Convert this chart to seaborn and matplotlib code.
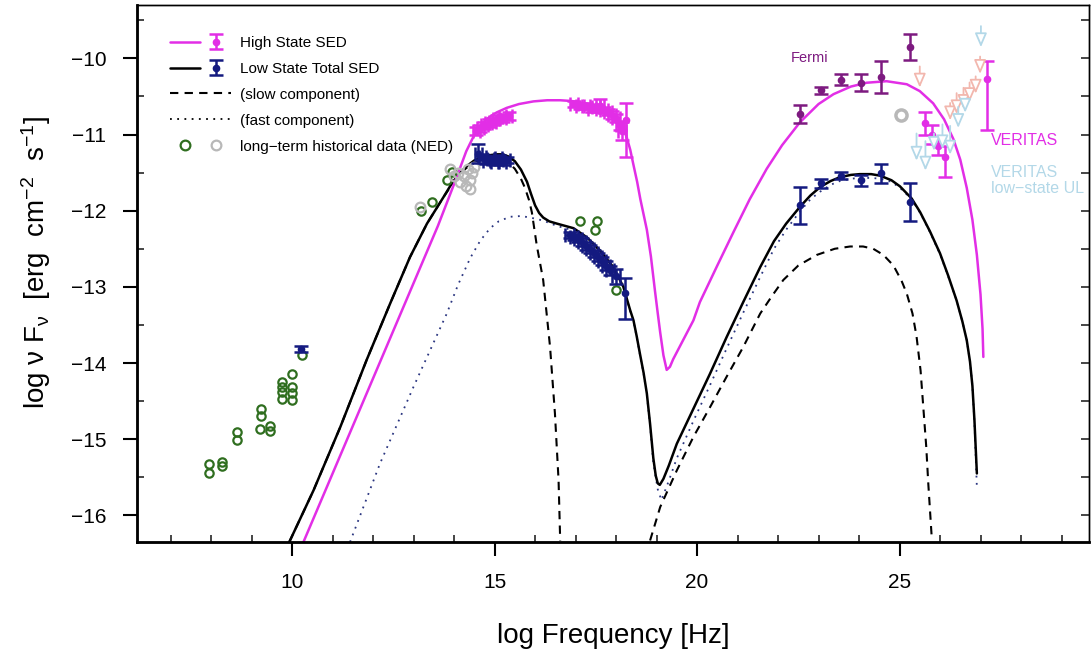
import numpy as np
import pandas as pd
import seaborn as sns
import matplotlib.pyplot as plt
from matplotlib.lines import Line2D
from matplotlib.legend_handler import HandlerTuple
from matplotlib.ticker import MultipleLocator

## model curves (log nu, log nuFnu)
high_x = [10.28, 11.0, 12.0, 13.0, 13.6, 14.0, 14.3, 14.55, 14.7, 14.85, 15.05, 15.3, 15.6, 15.96, 16.3,
          16.62, 16.9, 17.11, 17.4, 17.6, 17.8, 18.02, 18.15, 18.26, 18.35, 18.43, 18.52, 18.6, 18.68,
          18.76, 18.86, 18.96, 19.03, 19.09, 19.17, 19.25, 19.33, 19.41, 19.91, 20.07, 20.5, 20.9, 21.3,
          21.72, 22.1, 22.54, 23.0, 23.37, 23.8, 24.19, 24.68, 25.18, 25.5, 25.83, 26.1, 26.33, 26.5,
          26.66, 26.8, 26.91, 27.0, 27.05, 27.07]
high_y = [-16.35, -15.45, -14.2, -12.95, -12.2, -11.65, -11.22, -10.95, -10.85, -10.78, -10.71, -10.65,
          -10.6, -10.565, -10.55, -10.55, -10.56, -10.58, -10.62, -10.66, -10.72, -10.8, -10.9, -11.03,
          -11.2, -11.4, -11.62, -11.85, -12.05, -12.25, -12.6, -13.05, -13.35, -13.6, -13.9, -14.09,
          -14.05, -13.95, -13.44, -13.2, -12.72, -12.28, -11.85, -11.45, -11.14, -10.84, -10.6, -10.47,
          -10.37, -10.32, -10.3, -10.34, -10.43, -10.59, -10.8, -11.06, -11.33, -11.7, -12.12, -12.58,
          -13.1, -13.55, -13.92]

tot_x = [9.93, 10.53, 11.19, 11.84, 12.42, 12.91, 13.33, 13.74, 13.9, 14.07, 14.3, 14.5, 14.72, 14.9,
         15.05, 15.2, 15.35, 15.5, 15.65, 15.8, 15.9, 16.0, 16.1, 16.2, 16.35, 16.54, 16.95, 17.28, 17.6,
         17.93, 18.18, 18.35, 18.43, 18.51, 18.59, 18.68, 18.76, 18.84, 18.92, 18.98, 19.03, 19.08, 19.17,
         19.3, 19.5, 19.91, 20.32, 20.73, 21.14, 21.56, 21.9, 22.2, 22.54, 22.8, 23.04, 23.3, 23.53, 23.8,
         24.02, 24.3, 24.52, 24.8, 25.01, 25.3, 25.51, 25.75, 26.0, 26.2, 26.41, 26.55, 26.66, 26.74,
         26.8, 26.85, 26.91]
tot_y = [-16.35, -15.67, -14.84, -13.96, -13.22, -12.61, -12.17, -11.82, -11.68, -11.55, -11.42, -11.34,
         -11.29, -11.27, -11.26, -11.26, -11.29, -11.35, -11.46, -11.62, -11.78, -11.93, -12.03, -12.09,
         -12.14, -12.17, -12.23, -12.35, -12.52, -12.74, -13.0, -13.31, -13.44, -13.65, -13.88, -14.13,
         -14.4, -14.8, -15.25, -15.48, -15.58, -15.6, -15.52, -15.35, -15.06, -14.6, -14.14, -13.66,
         -13.2, -12.74, -12.4, -12.17, -11.95, -11.8, -11.69, -11.61, -11.56, -11.53, -11.52, -11.52,
         -11.54, -11.6, -11.68, -11.84, -12.02, -12.27, -12.56, -12.85, -13.18, -13.45, -13.7, -13.98,
         -14.3, -14.75, -15.45]

slow_lo_x = [9.93, 10.53, 11.19, 11.84, 12.42, 12.91, 13.33, 13.74, 14.07, 14.3, 14.5, 14.72, 14.9, 15.05,
             15.2, 15.35, 15.5, 15.65, 15.75, 15.85, 15.92, 16.04, 16.2, 16.37, 16.49, 16.58, 16.62]
slow_lo_y = [-16.35, -15.67, -14.84, -13.96, -13.22, -12.61, -12.17, -11.82, -11.56, -11.44, -11.37,
             -11.33, -11.32, -11.32, -11.33, -11.37, -11.45, -11.58, -11.7, -11.86, -12.02, -12.45, -12.91,
             -13.79, -14.66, -15.54, -16.33]
slow_hi_x = [18.84, 19.09, 19.5, 19.91, 20.32, 20.73, 21.14, 21.56, 21.85, 22.13, 22.5, 22.96, 23.4,
             23.78, 24.1, 24.35, 24.6, 24.85, 25.05, 25.18, 25.32, 25.42, 25.52, 25.59, 25.66, 25.71, 25.8]
slow_hi_y = [-16.33, -15.89, -15.41, -14.97, -14.58, -14.18, -13.79, -13.35, -13.12, -12.91, -12.72,
             -12.58, -12.5, -12.47, -12.47, -12.5, -12.58, -12.72, -12.92, -13.09, -13.35, -13.65, -14.1,
             -14.6, -15.1, -15.58, -16.33]

fast_x = [11.43, 12.17, 13.0, 13.82, 14.1, 14.4, 14.65, 14.89, 15.1, 15.38, 15.65, 15.88, 16.2, 16.54,
          16.95, 17.28, 17.6, 17.93, 18.18, 18.35, 18.43, 18.51, 18.59, 18.68, 18.76, 18.84, 18.92, 19.03,
          19.12, 19.3, 19.5, 19.91, 20.32, 20.73, 21.14, 21.56, 21.9, 22.2, 22.54, 22.8, 23.04, 23.3,
          23.53, 23.8, 24.02, 24.3, 24.52, 24.8, 25.01, 25.3, 25.51, 25.75, 26.0, 26.2, 26.41, 26.55, 26.66,
          26.74, 26.8, 26.85, 26.91]
fast_y = [-16.35, -15.32, -14.31, -13.35, -12.97, -12.62, -12.39, -12.23, -12.14, -12.08, -12.07, -12.09,
          -12.13, -12.2, -12.26, -12.37, -12.53, -12.75, -13.01, -13.32, -13.45, -13.66, -13.89, -14.14,
          -14.42, -14.82, -15.31, -15.66, -15.8, -15.55, -15.25, -14.76, -14.29, -13.81, -13.34, -12.87,
          -12.5, -12.25, -12.01, -11.85, -11.75, -11.66, -11.61, -11.58, -11.57, -11.57, -11.58, -11.62,
          -11.7, -11.85, -12.03, -12.28, -12.57, -12.86, -13.18, -13.45, -13.7, -13.98, -14.3, -14.78,
          -15.63]

## high state data
hs_opt_x = [14.55, 14.65, 14.75, 14.85, 14.95, 15.05, 15.2, 15.35]
hs_opt_y = [-10.95, -10.92, -10.88, -10.85, -10.83, -10.8, -10.78, -10.76]
hs_xr_x = [16.95, 17.1, 17.25, 17.4, 17.5, 17.6, 17.7, 17.8, 17.9, 18.0, 18.1, 18.15]
hs_xr_y = [-10.6, -10.62, -10.63, -10.66, -10.64, -10.62, -10.68, -10.71, -10.74, -10.78, -10.88, -10.95]
hs_xr_err = [0.04, 0.04, 0.04, 0.04, 0.04, 0.09, 0.04, 0.04, 0.05, 0.05, 0.06, 0.12]
hs_big_x = [18.25]
hs_big_y = [-10.81]
hs_big_lo = [0.49]
hs_big_hi = [0.22]
fermi_x = [22.54, 23.05, 23.55, 24.05, 24.54, 25.26]
hs_fermi_y = [-10.73, -10.42, -10.28, -10.32, -10.24, -9.85]
hs_fermi_err = [0.12, 0.05, 0.07, 0.11, 0.21, 0.17]
ver_x = [25.64, 25.81, 25.96, 26.13, 27.16]
ver_y = [-10.85, -11.0, -11.15, -11.3, -10.27]
ver_lo = [0.15, 0.12, 0.12, 0.26, 0.67]
ver_hi = [0.15, 0.12, 0.12, 0.15, 0.24]

## low state data
ls_radio_x = [10.21]
ls_radio_y = [-13.81]
ls_opt_x = [14.6, 14.7, 14.8, 14.9, 15.0, 15.1, 15.2, 15.3]
ls_opt_y = [-11.25, -11.3, -11.35, -11.32, -11.36, -11.31, -11.36, -11.33]
ls_opt_err = [0.12, 0.04, 0.04, 0.04, 0.04, 0.04, 0.04, 0.04]
ls_xr_x = [16.85, 16.95, 17.05, 17.15, 17.25, 17.35, 17.45, 17.55, 17.65, 17.75, 17.85, 18.0]
ls_xr_y = [-12.32, -12.34, -12.37, -12.41, -12.46, -12.5, -12.56, -12.61, -12.66, -12.72, -12.78, -12.86]
ls_xr_err = [0.04, 0.04, 0.04, 0.05, 0.05, 0.05, 0.05, 0.05, 0.05, 0.06, 0.06, 0.1]
ls_big_x = [18.22]
ls_big_y = [-13.08]
ls_big_lo = [0.34]
ls_big_hi = [0.2]
ls_fermi_y = [-11.93, -11.64, -11.54, -11.6, -11.51, -11.89]
ls_fermi_err = [0.24, 0.06, 0.05, 0.07, 0.12, 0.25]

## upper limits (top of arrow, arrow length)
ul_hi_x = [25.5, 26.25, 26.41, 26.58, 26.73, 26.88, 26.99]
ul_hi_y = [-10.07, -10.55, -10.42, -10.35, -10.28, -10.2, -9.94]
ul_hi_len = [0.35, 0.3, 0.35, 0.35, 0.33, 0.3, 0.3]
ul_lo_x = [25.42, 25.64, 25.85, 26.06, 26.25, 26.45, 26.62, 27.01]
ul_lo_y = [-10.95, -11.05, -10.95, -10.83, -10.85, -10.6, -10.5, -9.54]
ul_lo_len = [0.43, 0.46, 0.3, 0.4, 0.45, 0.35, 0.25, 0.35]

## historical NED data
ned_x = [7.95, 7.95, 8.26, 8.26, 8.65, 8.65, 9.23, 9.23, 9.21, 9.46, 9.46, 9.75, 9.75, 9.75, 9.75,
         10.0, 10.0, 10.0, 10.0, 10.24, 13.18, 13.45, 13.82, 13.94, 17.11, 17.54, 17.48, 18.01]
ned_y = [-15.33, -15.45, -15.3, -15.35, -14.9, -15.01, -14.6, -14.69, -14.86, -14.83, -14.89, -14.25,
         -14.31, -14.38, -14.47, -14.14, -14.31, -14.4, -14.49, -13.9, -12.0, -11.89, -11.6, -11.49,
         -12.13, -12.13, -12.26, -13.04]
grey_x = [13.15, 13.9, 14.0, 14.1, 14.15, 14.25, 14.3, 14.35, 14.4, 14.45, 14.5, 14.4]
grey_y = [-11.95, -11.45, -11.55, -11.5, -11.62, -11.55, -11.68, -11.45, -11.6, -11.5, -11.42, -11.72]
grey_fermi_x = [25.04]
grey_fermi_y = [-10.75]

MAG = '#e22ee6'
NAVY = '#141a80'
PURP = '#7d1a80'
GREEN = '#2f6e1f'
GREY = '#b8b8b8'
LBLUE = '#b3d8e8'
PINK = '#f2b7ae'

sns.set_theme(style='white')
plt.rcParams['font.family'] = ['Liberation Sans', 'DejaVu Sans']
plt.rcParams['mathtext.fontset'] = 'custom'
plt.rcParams['mathtext.rm'] = 'Liberation Sans'
plt.rcParams['mathtext.it'] = 'Liberation Sans:italic'
plt.rcParams['mathtext.default'] = 'regular'
plt.rcParams['text.color'] = 'black'
plt.rcParams['axes.labelcolor'] = 'black'

fig = plt.figure(figsize=(10.91, 6.55), dpi=100)
ax = fig.add_axes([0.1256, 0.1725, 0.8726, 0.8198])

# model curves
sns.lineplot(x=fast_x, y=fast_y, ax=ax, color='#2a3580', lw=1.3, linestyle=(0, (1, 3)), sort=False, estimator=None)
sns.lineplot(x=slow_lo_x, y=slow_lo_y, ax=ax, color='black', lw=1.5, linestyle=(0, (4, 3)), sort=False, estimator=None)
sns.lineplot(x=slow_hi_x, y=slow_hi_y, ax=ax, color='black', lw=1.5, linestyle=(0, (4, 3)), sort=False, estimator=None)
sns.lineplot(x=tot_x, y=tot_y, ax=ax, color='black', lw=1.8, sort=False, estimator=None)
sns.lineplot(x=high_x, y=high_y, ax=ax, color=MAG, lw=1.8, sort=False, estimator=None)

# historical
ax.plot(ned_x, ned_y, 'o', ls='none', mfc='none', mec=GREEN, mew=1.6, ms=6)
ax.plot(grey_x, grey_y, 'o', ls='none', mfc='none', mec=GREY, mew=1.6, ms=7)
ax.plot(grey_fermi_x, grey_fermi_y, 'o', ls='none', mfc='none', mec=GREY, mew=2.5, ms=8)

# upper limits
for x, y, l in zip(ul_hi_x, ul_hi_y, ul_hi_len):
    ax.annotate('', xy=(x, y - l), xytext=(x, y),
                arrowprops=dict(arrowstyle='-|>,head_width=0.3,head_length=0.7', ec=PINK, fc='white', lw=1.3))
for x, y, l in zip(ul_lo_x, ul_lo_y, ul_lo_len):
    ax.annotate('', xy=(x, y - l), xytext=(x, y),
                arrowprops=dict(arrowstyle='-|>,head_width=0.3,head_length=0.7', ec=LBLUE, fc='white', lw=1.3))

eb = dict(fmt='o', ms=4.5, capsize=5, elinewidth=1.8, capthick=1.8)
# low state points
ls_eb = ax.errorbar(ls_radio_x, ls_radio_y, yerr=0.04, color=NAVY, **eb)
ax.errorbar(ls_opt_x, ls_opt_y, yerr=ls_opt_err, xerr=0.08, color=NAVY, **eb)
ax.errorbar(ls_xr_x, ls_xr_y, yerr=ls_xr_err, xerr=0.1, color=NAVY, **eb)
ax.errorbar(ls_big_x, ls_big_y, yerr=[ls_big_lo, ls_big_hi], color=NAVY, **eb)
ax.errorbar(fermi_x, ls_fermi_y, yerr=ls_fermi_err, color=NAVY, **eb)

# high state points
ax.errorbar(hs_opt_x, hs_opt_y, yerr=0.05, xerr=0.08, color=MAG, **eb)
ax.errorbar(hs_xr_x, hs_xr_y, yerr=hs_xr_err, xerr=0.1, color=MAG, **eb)
ax.errorbar(hs_big_x, hs_big_y, yerr=[hs_big_lo, hs_big_hi], color=MAG, **eb)
ax.errorbar(fermi_x, hs_fermi_y, yerr=hs_fermi_err, color=PURP, **eb)
hs_eb = ax.errorbar(ver_x, ver_y, yerr=[ver_lo, ver_hi], color=MAG, **eb)

ax.text(22.79, -10.0, 'Fermi', color=PURP, fontsize=10.5, ha='center', va='center')
ax.text(27.25, -11.08, 'VERITAS', color=MAG, fontsize=11.5, ha='left', va='center')
ax.text(27.25, -11.5, 'VERITAS', color=LBLUE, fontsize=11.5, ha='left', va='center')
ax.text(27.25, -11.71, 'low\u2212state UL', color=LBLUE, fontsize=11.5, ha='left', va='center')

# legend
h_high = (Line2D([], [], color=MAG, lw=1.8), hs_eb)
h_low = (Line2D([], [], color='black', lw=1.8), ls_eb)
h_slow = Line2D([], [], color='black', lw=1.5, linestyle=(0, (4, 3)))
h_fast = Line2D([], [], color='black', lw=1.3, linestyle=(0, (1, 3)))
h_ned = (Line2D([], [], marker='o', ls='none', mfc='none', mec=GREEN, mew=1.6, ms=7),
         Line2D([], [], marker='o', ls='none', mfc='none', mec=GREY, mew=1.6, ms=7))
ax.legend([h_high, h_low, h_slow, h_fast, h_ned],
          ['High State SED', 'Low State Total SED', '(slow component)', '(fast component)',
           'long\u2212term historical data (NED)'],
          handler_map={h_high: HandlerTuple(ndivide=None, pad=0), h_low: HandlerTuple(ndivide=None, pad=0),
                       h_ned: HandlerTuple(ndivide=None, pad=0.1)},
          loc='upper left', bbox_to_anchor=(0.02, 0.968), frameon=False, fontsize=11,
          handlelength=4.0, labelspacing=0.78, handletextpad=0.6)

ax.set_xlim(6.17, 29.68)
ax.set_ylim(-16.35, -9.3)
ax.set_xticks([10, 15, 20, 25])
ax.xaxis.set_minor_locator(MultipleLocator(1))
ax.yaxis.set_major_locator(MultipleLocator(1))
ax.yaxis.set_minor_locator(MultipleLocator(0.5))
ax.tick_params(which='major', direction='out', length=10, width=1.5, labelsize=15,
               left=True, bottom=True, colors='black')
ax.tick_params(axis='x', which='major', pad=12)
ax.tick_params(axis='y', which='major', pad=12)
ax.tick_params(which='minor', direction='in', length=5, width=1.2, left=True, bottom=True)
ax.grid(False)

ax2 = ax.twinx()
ax2.set_ylim(-16.35, -9.3)
ax2.yaxis.set_major_locator(MultipleLocator(0.5))
ax2.tick_params(which='major', direction='in', length=6, width=1.2, right=True, labelright=False)
ax2.grid(False)

for a in (ax, ax2):
    for s in a.spines.values():
        s.set_color('black')
        s.set_linewidth(1.0)
ax.spines['left'].set_linewidth(2.0)
ax.spines['bottom'].set_linewidth(2.0)

ax.set_xlabel('log Frequency [Hz]', fontsize=20, color='black')
ax.set_ylabel('log \u03bd F$_\u03bd$  [erg  cm$^{-2}$  s$^{-1}$]', fontsize=20, color='black')
ax.xaxis.set_label_coords(0.5, -0.15)
ax.yaxis.set_label_coords(-0.088, 0.52)

fig.savefig('out.png', dpi=100)
